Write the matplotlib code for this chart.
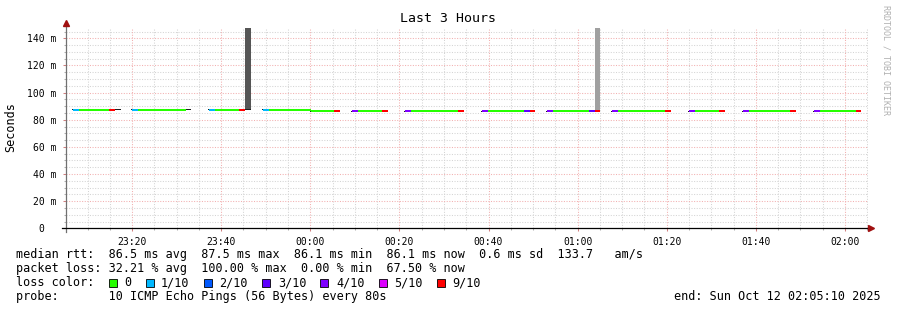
import datetime as dt
import matplotlib
matplotlib.use("Agg")
import matplotlib.pyplot as plt
import matplotlib.dates as mdates
from matplotlib.patches import Rectangle

# ---- data ----
start = dt.datetime(2025, 10, 11, 23, 5, 10)
end = dt.datetime(2025, 10, 12, 2, 5, 10)
step_s = 80

burst_start = ["23:06:44", "23:20:00", "23:37:15", "23:49:23", "00:00:03",
               "00:09:21", "00:21:15", "00:38:32", "00:53:07", "01:07:42",
               "01:24:59", "01:37:06", "01:53:02"]
burst_rtt = [87.5, 87.4, 87.3, 87.4, 86.2, 86.1, 86.2, 86.2, 86.1, 86.2,
             86.1, 86.2, 86.1]
# lost pings (out of 10) per 80 s step
burst_loss = [
    [1, 0, 0, 0, 0, 0, 9, 10],
    [1, 0, 0, 0, 0, 0, 0, 0, 0, 10],
    [1, 0, 0, 0, 0, 9, 10],
    [1, 0, 0, 0, 0, 0, 0, 0],
    [0, 0, 0, 0, 9],
    [4, 0, 0, 0, 0, 9],
    [4, 0, 0, 0, 0, 0, 0, 0, 0, 9],
    [4, 0, 0, 0, 0, 0, 0, 3, 9],
    [4, 0, 0, 0, 0, 0, 0, 3, 9],
    [4, 0, 0, 0, 0, 0, 0, 0, 0, 9],
    [4, 0, 0, 0, 0, 9],
    [4, 0, 0, 0, 0, 0, 0, 0, 9],
    [4, 0, 0, 0, 0, 0, 0, 9],
]

smoke_time = ["23:45:15", "01:03:47"]
smoke_base = [87.3, 86.1]
smoke_top = [160, 160]
smoke_color = ["#555555", "#a0a0a0"]

loss_labels = ["0", "1/10", "2/10", "3/10", "4/10", "5/10", "9/10"]
loss_keys = [0, 1, 2, 3, 4, 5, 9]
loss_colors = ["#26ff00", "#00b8ff", "#0059ff", "#5e00ff", "#7e00ff", "#dd00ff", "#ff0000"]

stats_rtt = "median rtt:  86.5 ms avg  87.5 ms max  86.1 ms min  86.1 ms now  0.6 ms sd  133.7   am/s"
stats_loss = "packet loss: 32.21 % avg  100.00 % max  0.00 % min  67.50 % now"
probe_text = "probe:       10 ICMP Echo Pings (56 Bytes) every 80s"
end_text = "end: Sun Oct 12 02:05:10 2025"

MONO = "DejaVu Sans Mono"
W, H = 897, 310


def clock(s):
    h, m, sec = (int(v) for v in s.split(":"))
    day = start.date() if h >= 12 else end.date()
    return dt.datetime.combine(day, dt.time(h, m, sec))


def px(x, y):
    return x / W, 1 - y / H


fig = plt.figure(figsize=(W / 100, H / 100), dpi=100)
ax_left, ax_right, ax_bottom, ax_top = 66, 868, 228.3, 28
ax = fig.add_axes([ax_left / W, 1 - ax_bottom / H,
                   (ax_right - ax_left) / W, (ax_bottom - ax_top) / H])
ymax = 147.6
ax.set_xlim(mdates.date2num(start), mdates.date2num(end))
ax.set_ylim(0, ymax)

# grid
minor_c, major_c = "#d4d4d4", "#f2b0b0"
minor_y = [v for v in range(5, 150, 5) if v % 20]
major_y = list(range(20, 141, 20))
for v in minor_y:
    ax.axhline(v, color=minor_c, lw=0.75, ls=(0, (1, 1.5)), zorder=0)
for v in major_y:
    ax.axhline(v, color=major_c, lw=0.75, ls=(0, (1, 1.5)), zorder=0.5)
t = start.replace(minute=10, second=0)
while t <= end:
    col = major_c if t.minute % 20 == 0 else minor_c
    ax.axvline(mdates.date2num(t), color=col, lw=0.75, ls=(0, (1, 1.5)), zorder=0.3)
    t += dt.timedelta(minutes=5)

# smoke
sw = step_s / 86400
for ts, b, top, c in zip(smoke_time, smoke_base, smoke_top, smoke_color):
    ax.bar(mdates.date2num(clock(ts)), top - b, bottom=b, width=sw,
           align="edge", color=c, lw=0, zorder=2, antialiased=False)

# median line coloured by loss
color_of = dict(zip(loss_keys, loss_colors))
px_ms = (ax_bottom - ax_top) / ymax
for s, rtt, losses in zip(burst_start, burst_rtt, burst_loss):
    t0 = mdates.date2num(clock(s))
    lead = 12 / 86400
    ax.bar(t0 - lead, 1 / px_ms, bottom=rtt - 0.5 / px_ms, width=lead,
           align="edge", color="#202020", lw=0, zorder=3, antialiased=False)
    for i, lv in enumerate(losses):
        x = t0 + i * sw
        if lv >= 10:
            ax.bar(x, 1 / px_ms, bottom=rtt - 0.5 / px_ms, width=sw,
                   align="edge", color="#202020", lw=0, zorder=3, antialiased=False)
        else:
            ax.bar(x, 2 / px_ms, bottom=rtt - 1 / px_ms, width=sw,
                   align="edge", color=color_of[lv], lw=0, zorder=3, antialiased=False)

# axes, ticks
for sp in ax.spines.values():
    sp.set_visible(False)
ax.set_yticks(major_y + [0])
ax.set_yticks(minor_y, minor=True)
ax.yaxis.set_major_formatter(lambda v, p: "0  " if v == 0 else f"{int(v)} m")
ax.xaxis.set_major_locator(mdates.MinuteLocator(byminute=[0, 20, 40]))
ax.xaxis.set_minor_locator(mdates.MinuteLocator(byminute=range(0, 60, 5)))
ax.xaxis.set_major_formatter(mdates.DateFormatter("%H:%M"))
ax.tick_params(axis="both", which="major", labelsize=7, length=2, width=0.75,
               color="#d08080", pad=4)
ax.tick_params(axis="both", which="minor", length=1.5, width=0.75, color="#b0b0b0")
ax.tick_params(axis="y", which="major", pad=5)
for lab in ax.get_xticklabels() + ax.get_yticklabels():
    lab.set_family(MONO)

ax.plot([0, 0], [-0.02, 1.01], transform=ax.transAxes, color="#707070",
        lw=0.9, clip_on=False, zorder=4)
ax.plot([-0.005, 1.003], [0, 0], transform=ax.transAxes, color="black",
        lw=0.9, clip_on=False, zorder=4)
ax.plot([0], [1.025], marker="^", ms=4, color="#a01010", transform=ax.transAxes,
        clip_on=False, zorder=5)
ax.plot([1.004], [0], marker=">", ms=4, color="#a01010", transform=ax.transAxes,
        clip_on=False, zorder=5)

# texts
fig.text(*px(448, 19), "Last 3 Hours", ha="center", va="center",
         family=MONO, size=9.5)
fig.text(*px(11, 127), "Seconds", ha="center", va="center", rotation=90,
         family=MONO, size=8.5)
fig.text(*px(886, 5), "RRDTOOL / TOBI OETIKER", ha="center", va="top",
         rotation=270, family=MONO, size=6, color="#b0b0b0")

cw = 7.12
fig.text(*px(16, 254.5), stats_rtt, ha="left", va="center", family=MONO, size=8.5)
fig.text(*px(16, 268.5), stats_loss, ha="left", va="center", family=MONO, size=8.5)
fig.text(*px(16, 282.5), "loss color:", ha="left", va="center", family=MONO, size=8.5)
cur = 16 + 13 * cw
for lab, c in zip(loss_labels, loss_colors):
    bx, by = px(cur, 286.5)
    fig.add_artist(Rectangle((bx, by), 8 / W, 8 / H, transform=fig.transFigure,
                             facecolor=c, edgecolor="black", lw=0.6))
    fig.text(*px(cur + 15.6, 282.5), lab, ha="left", va="center", family=MONO, size=8.5)
    cur += 15.6 + (len(lab) + 2) * cw
fig.text(*px(16, 296.5), probe_text, ha="left", va="center", family=MONO, size=8.5)
fig.text(*px(881, 296.5), end_text, ha="right", va="center", family=MONO, size=8.5)

fig.savefig("out.png", dpi=100)
